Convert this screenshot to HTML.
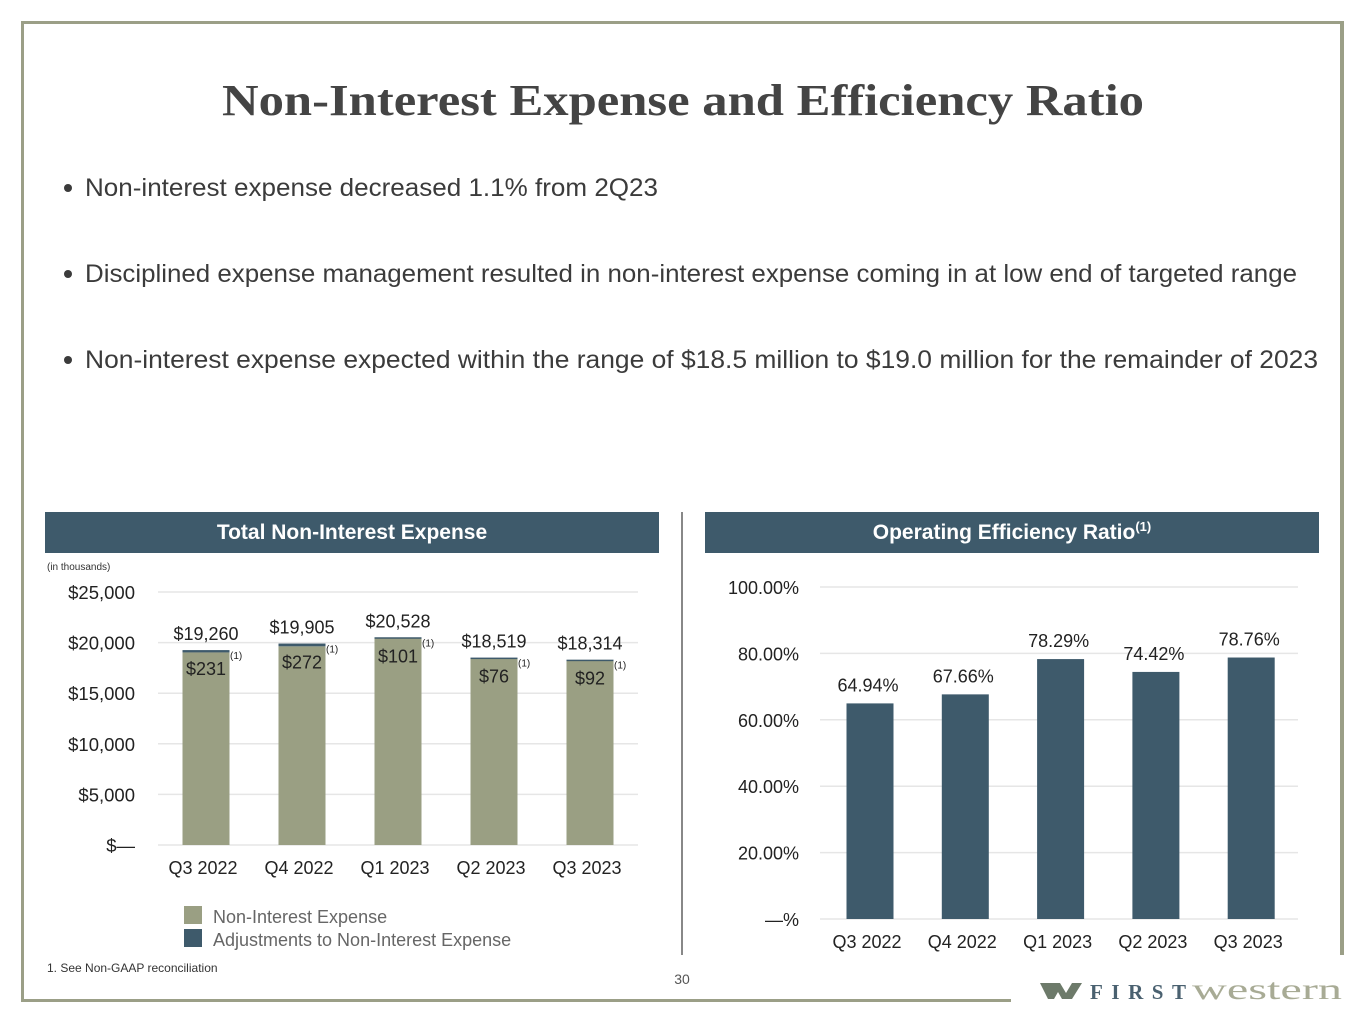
<!DOCTYPE html>
<html><head><meta charset="utf-8"><style>
body{margin:0;background:#fff;}
svg{display:block;font-family:"Liberation Sans",sans-serif;}
</style></head><body>
<svg width="1365" height="1024" viewBox="0 0 1365 1024">
<g fill="#9b9f87">
<rect x="21" y="21" width="1323" height="3"/>
<rect x="1340" y="21" width="4" height="934"/>
<rect x="21" y="21" width="3" height="981"/>
<rect x="21" y="999" width="990" height="3"/>
</g>
<text x="683" y="115" text-anchor="middle" font-family="Liberation Serif,serif" font-weight="bold" font-size="44" fill="#444" textLength="922" lengthAdjust="spacingAndGlyphs">Non-Interest Expense and Efficiency Ratio</text>
<g fill="#3b3b3b" font-size="25">
<circle cx="68" cy="188" r="4"/><text x="85" y="196" textLength="573" lengthAdjust="spacingAndGlyphs">Non-interest expense decreased 1.1% from 2Q23</text>
<circle cx="68" cy="274" r="4"/><text x="85" y="282" textLength="1212" lengthAdjust="spacingAndGlyphs">Disciplined expense management resulted in non-interest expense coming in at low end of targeted range</text>
<circle cx="68" cy="360" r="4"/><text x="85" y="368" textLength="1233" lengthAdjust="spacingAndGlyphs">Non-interest expense expected within the range of $18.5 million to $19.0 million for the remainder of 2023</text>
</g>
<rect x="45" y="512" width="614" height="41" fill="#3e5a6b"/>
<text x="352" y="539" text-anchor="middle" fill="#fff" font-weight="bold" font-size="21">Total Non-Interest Expense</text>
<rect x="705" y="512" width="614" height="41" fill="#3e5a6b"/>
<text x="1012" y="539" text-anchor="middle" fill="#fff" font-weight="bold" font-size="21">Operating Efficiency Ratio<tspan font-size="13" dy="-8">(1)</tspan></text>
<rect x="681" y="512" width="2" height="443" fill="#888"/>
<text x="47" y="570" font-size="10" fill="#333">(in thousands)</text>
<g id="left"></g>
<g id="right"></g>
<g font-size="18" fill="#666">
<rect x="184" y="906" width="18" height="18" fill="#9a9f83"/>
<text x="213" y="923">Non-Interest Expense</text>
<rect x="184" y="929" width="18" height="18" fill="#3e5a6b"/>
<text x="213" y="946">Adjustments to Non-Interest Expense</text>
</g>
<text x="47" y="972" font-size="12" fill="#333">1.   See Non-GAAP reconciliation</text>
<text x="682" y="984" font-size="14" fill="#555" text-anchor="middle">30</text>
<g>
<path d="M1040 983 L1060 983 L1066 993 L1072 983 L1082 983 L1072 999 L1062 999 L1058 992 L1054 999 L1048 999 Z" fill="#6d7a6a"/>
<text x="1090" y="999" font-family="Liberation Serif,serif" font-weight="bold" font-size="21" fill="#4a6170" textLength="96" lengthAdjust="spacing">FIRST</text>
<text x="1192" y="999" font-family="Liberation Serif,serif" font-size="30" fill="#a8ab95" textLength="150" lengthAdjust="spacingAndGlyphs">western</text>
</g>
</svg>
<script>
const cats=["Q3 2022","Q4 2022","Q1 2023","Q2 2023","Q3 2023"];
const totals=[19260,19905,20528,18519,18314];
const adjustments=[231,272,101,76,92];
const expTicks=[0,5000,10000,15000,20000,25000];
const expTickLabels=["$—","$5,000","$10,000","$15,000","$20,000","$25,000"];
const ratios=[64.94,67.66,78.29,74.42,78.76];
const ratioTicks=[0,20,40,60,80,100];
const ratioTickLabels=["—%","20.00%","40.00%","60.00%","80.00%","100.00%"];
const NS="http://www.w3.org/2000/svg";
function mk(p,tag,at,txt){const e=document.createElementNS(NS,tag);for(const k in at)e.setAttribute(k,at[k]);if(txt!=null)e.textContent=txt;p.appendChild(e);return e;}
const fmt=v=>"$"+v.toLocaleString("en-US");
// left
const L=document.getElementById("left");
const ly=v=>845-v*(845-592)/25000, lx=i=>206+i*96;
expTicks.forEach((t,i)=>{
 const g=mk(L,"line",{x1:158,x2:638,y1:ly(t),y2:ly(t),stroke:"#e6e6e6","stroke-width":1.5});
 
 const tx=mk(L,"text",{x:135,y:ly(t)+7,"text-anchor":"end","font-size":18.5,fill:"#222"},expTickLabels[i]);
 
});
cats.forEach((c,i)=>{
 const base=totals[i]-adjustments[i];
 const b=mk(L,"rect",{x:lx(i)-23.5,y:ly(base),width:47,height:ly(0)-ly(base),fill:"#9a9f83"});
 
 const a=mk(L,"rect",{x:lx(i)-23.5,y:ly(totals[i]),width:47,height:Math.max(1.5,ly(base)-ly(totals[i])),fill:"#3e5a6b"});
 
 const t=mk(L,"text",{x:lx(i),y:ly(totals[i])-10,"text-anchor":"middle","font-size":18,fill:"#222"},fmt(totals[i]));
 
 const al=mk(L,"text",{x:lx(i),y:ly(totals[i])+25,"text-anchor":"middle","font-size":18,fill:"#222"},fmt(adjustments[i]));
 
 const fn=mk(L,"text",{x:lx(i)+24,y:ly(totals[i])+9,"font-size":10,fill:"#222"},"(1)");
 
 const xl=mk(L,"text",{x:lx(i)-3,y:874,"text-anchor":"middle","font-size":18,fill:"#222"},c);
 
});
// right
const R=document.getElementById("right");
const ry=v=>919-v*(919-587)/100, rx=i=>870+i*95.3;
ratioTicks.forEach((t,i)=>{
 const g=mk(R,"line",{x1:820,x2:1298,y1:ry(t),y2:ry(t),stroke:"#e6e6e6","stroke-width":1.5});
 
 const tx=mk(R,"text",{x:799,y:ry(t)+7,"text-anchor":"end","font-size":18,fill:"#222"},ratioTickLabels[i]);
 
});
cats.forEach((c,i)=>{
 const b=mk(R,"rect",{x:rx(i)-23.5,y:ry(ratios[i]),width:47,height:ry(0)-ry(ratios[i]),fill:"#3e5a6b"});
 
 const t=mk(R,"text",{x:rx(i)-2,y:ry(ratios[i])-12,"text-anchor":"middle","font-size":18,fill:"#222"},ratios[i].toFixed(2)+"%");
 
 const xl=mk(R,"text",{x:rx(i)-3,y:948,"text-anchor":"middle","font-size":18,fill:"#222"},c);
 
});
</script>
</body></html>
